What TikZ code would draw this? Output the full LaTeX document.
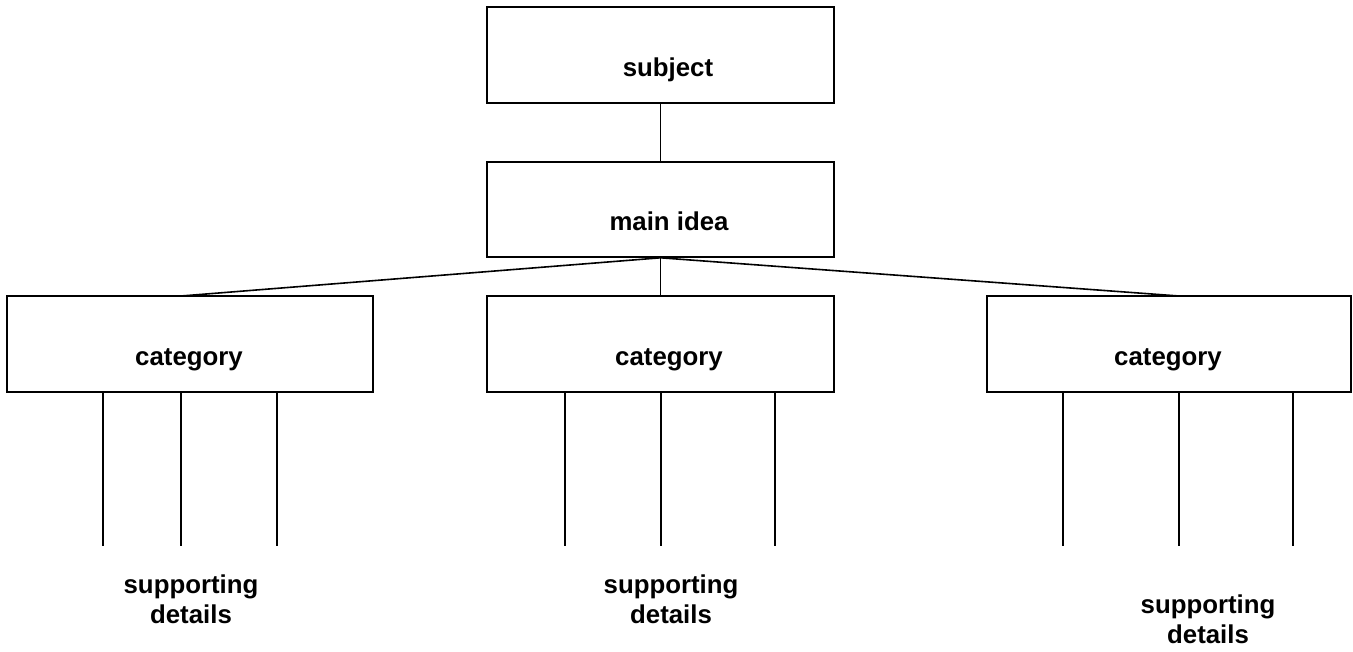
\documentclass[tikz,border=0pt]{standalone}
\usepackage{fontspec}
\setmainfont{Liberation Sans}
\begin{document}
\begin{tikzpicture}[x=0.5pt,y=-0.5pt,
  box/.style={draw, line width=0.8pt, inner sep=0pt, minimum height=48pt},
  lbl/.style={font=\fontsize{12.9}{15}\selectfont\bfseries, inner sep=0pt, anchor=base},
  sup/.style={font=\fontsize{12.9}{15}\selectfont\bfseries, inner sep=0pt, align=center, anchor=base},
  conn/.style={line width=0.8pt}]
\useasboundingbox (0,0) rectangle (1353,652);
% boxes
\node[box, minimum width=173.5pt] (subj) at (660.5,55) {};
\node[box, minimum width=173.5pt, minimum height=47.5pt] (main) at (660.5,209.5) {};
\node[box, minimum width=183pt] (catL) at (190,344) {};
\node[box, minimum width=173.5pt] (catM) at (660.5,344) {};
\node[box, minimum width=182pt] (catR) at (1169,344) {};
% texts
\node[lbl] (tsubj) at (668,77) {subject};
\node[lbl] (tmain) at (669,231) {main idea};
\node[lbl] (tcatL) at (189,365) {category};
\node[lbl] (tcatM) at (669,365) {category};
\node[lbl] (tcatR) at (1168,365) {category};
\node[sup] (supL) at (191,623) {supporting\\details};
\node[sup] (supM) at (671,623) {supporting\\details};
\node[sup] (supR) at (1208,643) {supporting\\details};
% attachment points
\coordinate (aL) at (181,296);
\coordinate (aR) at (1179,296);
\foreach \n/\x in {L1/103,L2/181,L3/277,M1/565,M2/661,M3/775,R1/1063,R2/1179,R3/1293}{
  \coordinate (e\n) at (\x,546);
}
% connectors
\draw[conn] (subj.south) -- (main.north);
\draw[conn] (main.south) -- (aL);
\draw[conn] (main.south) -- (catM.north);
\draw[conn] (main.south) -- (aR);
\foreach \n in {L1,L2,L3}{\draw[conn] (catL.south -| e\n) -- (e\n);}
\foreach \n in {M1,M2,M3}{\draw[conn] (catM.south -| e\n) -- (e\n);}
\foreach \n in {R1,R2,R3}{\draw[conn] (catR.south -| e\n) -- (e\n);}
\end{tikzpicture}
\end{document}
